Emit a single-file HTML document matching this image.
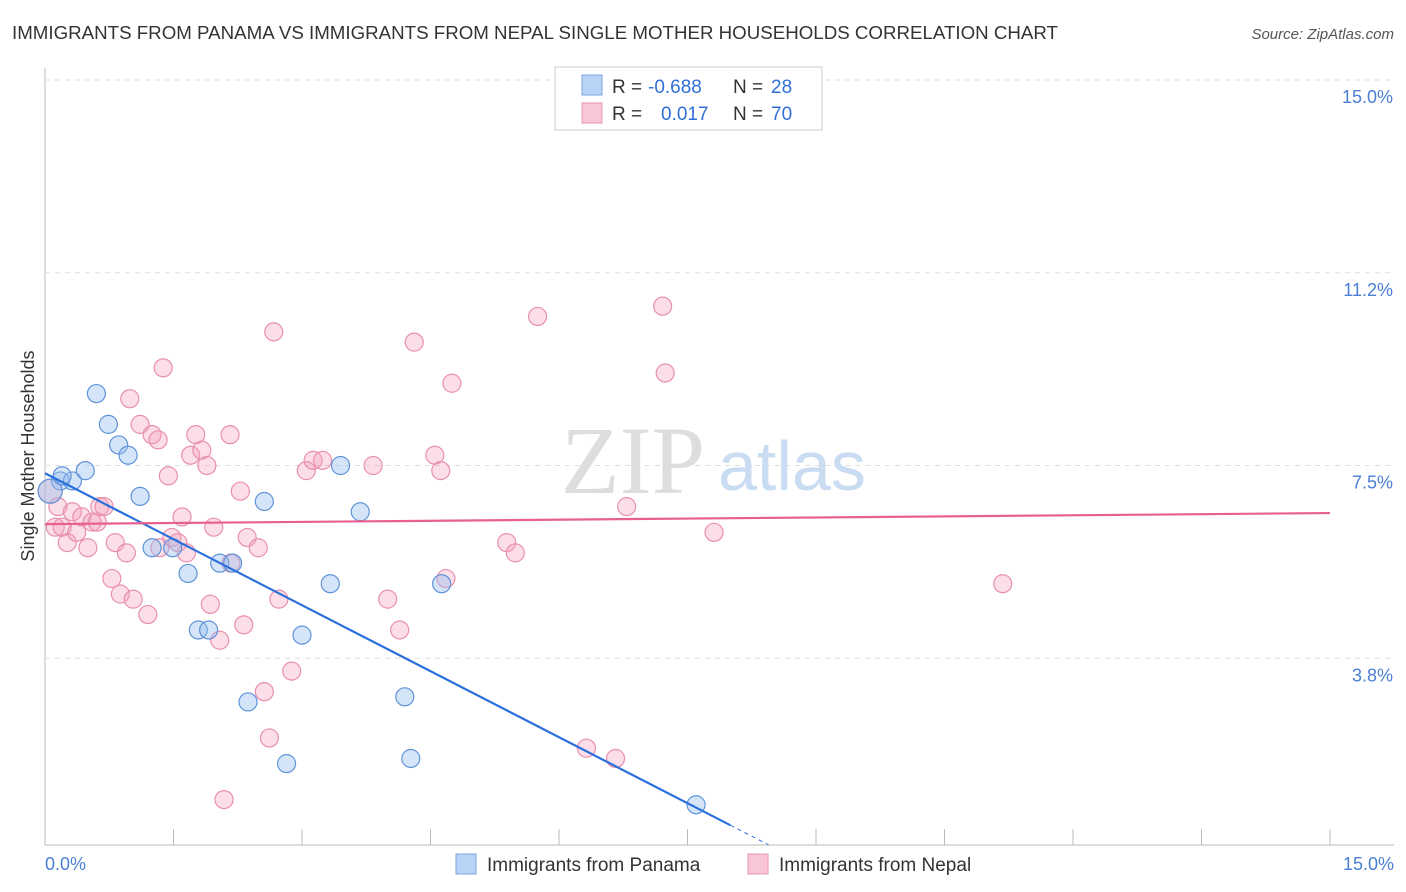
<!DOCTYPE html>
<html><head><meta charset="utf-8"><style>
body{margin:0;background:#fff;font-family:"Liberation Sans",sans-serif;}
svg{display:block}
</style></head><body>
<svg id="chart" width="1406" height="892">
<text x="12" y="39" font-size="18" fill="#333" textLength="1046" lengthAdjust="spacingAndGlyphs">IMMIGRANTS FROM PANAMA VS IMMIGRANTS FROM NEPAL SINGLE MOTHER HOUSEHOLDS CORRELATION CHART</text>
<text x="1394" y="39" font-size="15" fill="#555" font-style="italic" text-anchor="end">Source: ZipAtlas.com</text>
<g id="grid"></g>
<text x="705" y="493" font-size="96" fill="#ddd" font-family="Liberation Serif" text-anchor="end">ZIP</text>
<text x="718" y="490" font-size="70" fill="#c9dcf2">atlas</text>
<g id="points"></g>
<g id="lines"></g>
<text transform="translate(34,456) rotate(-90)" font-size="18" fill="#333" text-anchor="middle">Single Mother Households</text>
<text x="45" y="870" font-size="18" fill="#4a7fd4">0.0%</text>
<text x="1394" y="870" font-size="18" fill="#4a7fd4" text-anchor="end">15.0%</text>
<g>
<rect x="555" y="67" width="267" height="63" fill="#fff" stroke="#ccc"/>
<rect x="582" y="75" width="20" height="20" fill="#b8d3f5" stroke="#7aa6e0"/>
<rect x="582" y="103" width="20" height="20" fill="#f8c6d6" stroke="#e895b0"/>
<g font-size="19" fill="#333">
<text x="612" y="93">R =</text><text x="648" y="93" fill="#2f6fd6">-0.688</text><text x="733" y="93">N =</text><text x="771" y="93" fill="#2f6fd6">28</text>
<text x="612" y="120">R =</text><text x="661" y="120" fill="#2f6fd6">0.017</text><text x="733" y="120">N =</text><text x="771" y="120" fill="#2f6fd6">70</text>
</g>
</g>
<g>
<rect x="456" y="854" width="20" height="20" fill="#b8d3f5" stroke="#7aa6e0"/>
<text x="487" y="871" font-size="19" fill="#333">Immigrants from Panama</text>
<rect x="748" y="854" width="20" height="20" fill="#f8c6d6" stroke="#e895b0"/>
<text x="779" y="871" font-size="19" fill="#333">Immigrants from Nepal</text>
</g>
</svg>
<script>
const yTicks=[3.75,7.5,11.25,15.0];
const yTickLabels=["3.8%","7.5%","11.2%","15.0%"];
const xTicks=[0,1.5,3,4.5,6,7.5,9,10.5,12,13.5,15];
const panamaX=[0.18,0.32,0.47,0.60,0.74,0.86,0.97,1.11,1.25,1.49,1.67,1.79,1.91,2.04,2.19,2.37,2.56,2.82,3.00,3.33,3.45,3.68,4.20,4.27,4.63,7.60,0.06,0.20];
const panamaY=[7.2,7.2,7.4,8.9,8.3,7.9,7.7,6.9,5.9,5.9,5.4,4.3,4.3,5.6,5.6,2.9,6.8,1.7,4.2,5.2,7.5,6.6,3.0,1.8,5.2,0.9,7.0,7.3];
const nepalX=[0.06,0.12,0.15,0.20,0.26,0.32,0.37,0.43,0.50,0.55,0.61,0.64,0.69,0.78,0.82,0.88,0.95,0.99,1.03,1.11,1.20,1.25,1.32,1.34,1.38,1.44,1.48,1.55,1.60,1.65,1.70,1.76,1.83,1.89,1.93,1.97,2.04,2.09,2.16,2.17,2.28,2.32,2.36,2.49,2.56,2.62,2.67,2.73,2.88,3.05,3.13,3.24,3.83,4.00,4.14,4.31,4.55,4.62,4.68,4.75,5.39,5.49,5.75,6.32,6.66,6.79,7.21,7.24,7.81,11.18];
const nepalY=[7.0,6.3,6.7,6.3,6.0,6.6,6.2,6.5,5.9,6.4,6.4,6.7,6.7,5.3,6.0,5.0,5.8,8.8,4.9,8.3,4.6,8.1,8.0,5.9,9.4,7.3,6.1,6.0,6.5,5.8,7.7,8.1,7.8,7.5,4.8,6.3,4.1,1.0,8.1,5.6,7.0,4.4,6.1,5.9,3.1,2.2,10.1,4.9,3.5,7.4,7.6,7.6,7.5,4.9,4.3,9.9,7.7,7.4,5.3,9.1,6.0,5.8,10.4,2.0,1.8,6.7,10.6,9.3,6.2,5.2];
const nepalR=[12,9,9,9,9,9,9,9,9,9,9,9,9,9,9,9,9,9,9,9,9,9,9,9,9,9,9,9,9,9,9,9,9,9,9,9,9,9,9,9,9,9,9,9,9,9,9,9,9,9,9,9,9,9,9,9,9,9,9,9,9,9,9,9,9,9,9,9,9,9];
const panamaLine=[7.35,-0.856];
const nepalLine=[6.36,0.0143];
const NS="http://www.w3.org/2000/svg";
const X0=45,X1=1330,Y0=851,PPY=51.4;
const sx=v=>X0+(X1-X0)*v/15, sy=v=>Y0-v*PPY;
function mk(t,a,p){const e=document.createElementNS(NS,t);for(const k in a)e.setAttribute(k,a[k]);p.appendChild(e);return e;}
const grid=document.getElementById('grid');
const yax=mk('line',{x1:45,x2:45,y1:68,y2:845,stroke:'#bbb'},grid);


const xax=mk('line',{x1:45,x2:1394,y1:845,y2:845,stroke:'#bbb'},grid);


yTicks.forEach((v,i)=>{
 const g=mk('line',{x1:45,x2:1394,y1:sy(v),y2:sy(v),stroke:'#ddd','stroke-dasharray':'5,5'},grid);
 
 
 const t=mk('text',{x:1393,y:sy(v)+23,'font-size':18,fill:'#4a7fd4','text-anchor':'end'},grid);
 t.textContent=yTickLabels[i];
 
 
});
xTicks.forEach(v=>{
 const l=mk('line',{x1:sx(v),x2:sx(v),y1:829,y2:845,stroke:'#bbb'},grid);
 
 
});
const pts=document.getElementById('points');
nepalX.forEach((x,i)=>{
 const c=mk('circle',{cx:sx(x),cy:sy(nepalY[i]),r:nepalR[i],fill:'rgba(244,160,188,0.35)',stroke:'#e98fae','stroke-width':1.2},pts);
 
 
});
panamaX.forEach((x,i)=>{
 const c=mk('circle',{cx:sx(x),cy:sy(panamaY[i]),r:i==26?12:9,fill:'rgba(150,190,240,0.4)',stroke:'#5f93d8','stroke-width':1.2},pts);
 
 
});
const ln=document.getElementById('lines');
const pl=x=>panamaLine[0]+panamaLine[1]*x;
const xEnd=8.0, yStop=0.12, xStop=Math.min((yStop-panamaLine[0])/panamaLine[1],15);
const b1=mk('line',{x1:sx(0),y1:sy(pl(0)),x2:sx(xEnd),y2:sy(pl(xEnd)),stroke:'#2a6fdb','stroke-width':2.2},ln);


const b2=mk('line',{x1:sx(xEnd),y1:sy(pl(xEnd)),x2:sx(xStop),y2:sy(pl(xStop)),stroke:'#2a6fdb','stroke-width':1,'stroke-dasharray':'4,4'},ln);


const n1=mk('line',{x1:sx(0),y1:sy(nepalLine[0]),x2:sx(15),y2:sy(nepalLine[0]+nepalLine[1]*15),stroke:'#e8608f','stroke-width':2.2},ln);


</script>
</body></html>
